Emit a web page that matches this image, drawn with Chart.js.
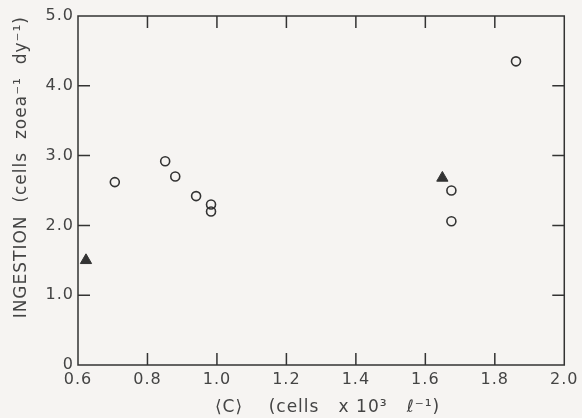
<!DOCTYPE html>
<html>
<head>
<meta charset="utf-8">
<script src="https://cdn.jsdelivr.net/npm/chart.js@4.4.1/dist/chart.umd.min.js"></script>
<style>
html,body{margin:0;padding:0;background:#f6f4f2;}
#wrap{width:582px;height:418px;}
</style>
</head>
<body>
<div id="wrap"><canvas id="c" width="582" height="418"></canvas></div>
<script>
// Open circles
const circleX = [0.706, 0.851, 0.880, 0.940, 0.983, 0.983, 1.675, 1.675, 1.861];
const circleY = [2.62, 2.92, 2.70, 2.42, 2.30, 2.20, 2.50, 2.06, 4.35];
// Filled triangles
const triX = [0.623, 1.649];
const triY = [1.50, 2.68];
// Axis ticks
const xTicks = [0.6, 0.8, 1.0, 1.2, 1.4, 1.6, 1.8, 2.0];
const yTicks = [0, 1, 2, 3, 4, 5];
const yTickLabels = ['0', '1.0', '2.0', '3.0', '4.0', '5.0'];
const xTitle = '  \u27E8C\u27E9    (cells   x 10\u00B3   \u2113\u207B\u00B9)';
const yTitle = 'INGESTION  (cells  zoea\u207B\u00B9  dy\u207B\u00B9)';

const ink = '#333333';
const textInk = '#444444';
const font = 'DejaVu Sans';

const spacing = {
  id: 'spacing',
  beforeDraw(chart) { chart.ctx.letterSpacing = '1px'; },
  afterDraw(chart) { chart.ctx.letterSpacing = '0px'; }
};

const frameTicks = {
  id: 'frameTicks',
  afterDatasetsDraw(chart) {
    const ctx = chart.ctx, a = chart.chartArea;
    const xs = chart.scales.x, ys = chart.scales.y;
    ctx.save();
    ctx.strokeStyle = ink;
    ctx.lineWidth = 1.5;
    ctx.strokeRect(a.left, a.top, a.right - a.left, a.bottom - a.top);
    const L = 12;
    ctx.beginPath();
    xTicks.forEach(v => {
      const px = xs.getPixelForValue(v);
      if (Math.abs(px - a.left) < 2 || Math.abs(px - a.right) < 2) return;
      ctx.moveTo(px, a.bottom); ctx.lineTo(px, a.bottom - L);
      ctx.moveTo(px, a.top); ctx.lineTo(px, a.top + L);
    });
    yTicks.forEach(v => {
      const py = ys.getPixelForValue(v);
      if (Math.abs(py - a.top) < 2 || Math.abs(py - a.bottom) < 2) return;
      ctx.moveTo(a.left, py); ctx.lineTo(a.left + L, py);
      ctx.moveTo(a.right, py); ctx.lineTo(a.right - L, py);
    });
    ctx.stroke();
    ctx.restore();
  }
};

new Chart(document.getElementById('c'), {
  type: 'scatter',
  data: {
    datasets: [
      {
        data: circleX.map((x, i) => ({x, y: circleY[i]})),
        pointStyle: 'circle',
        pointRadius: 4.5,
        pointBorderWidth: 1.6,
        pointBorderColor: ink,
        pointBackgroundColor: 'rgba(0,0,0,0)'
      },
      {
        data: triX.map((x, i) => ({x, y: triY[i]})),
        pointStyle: 'triangle',
        pointRadius: 6.5,
        pointBorderWidth: 1,
        pointBorderColor: ink,
        pointBackgroundColor: ink
      }
    ]
  },
  options: {
    responsive: false,
    animation: false,
    events: [],
    layout: { padding: { left: 0, right: 14, top: 16, bottom: 0 } },
    plugins: { legend: { display: false }, tooltip: { enabled: false } },
    scales: {
      x: {
        type: 'linear',
        min: 0.6, max: 2.0,
        afterBuildTicks(s) { s.ticks = xTicks.map(v => ({value: v})); },
        afterFit(s) { s.height = 53; },
        grid: { display: false, drawTicks: false },
        border: { display: false },
        ticks: {
          color: textInk,
          font: { family: font, size: 16 },
          padding: 5,
          maxRotation: 0,
          callback: v => v.toFixed(1)
        },
        title: {
          display: true, text: xTitle, color: textInk,
          font: { family: font, size: 17 },
          padding: { top: 2, bottom: 0 }
        }
      },
      y: {
        type: 'linear',
        min: 0, max: 5,
        afterBuildTicks(s) { s.ticks = yTicks.map(v => ({value: v})); },
        afterFit(s) { s.width = 78; },
        grid: { display: false, drawTicks: false },
        border: { display: false },
        ticks: {
          color: textInk,
          font: { family: font, size: 16 },
          padding: 4,
          callback: (v) => yTickLabels[yTicks.indexOf(v)]
        },
        title: {
          display: true, text: yTitle, color: textInk, align: 'end',
          font: { family: font, size: 17 },
          padding: { top: 11, bottom: 0 }
        }
      }
    }
  },
  plugins: [spacing, frameTicks]
});
</script>
</body>
</html>
